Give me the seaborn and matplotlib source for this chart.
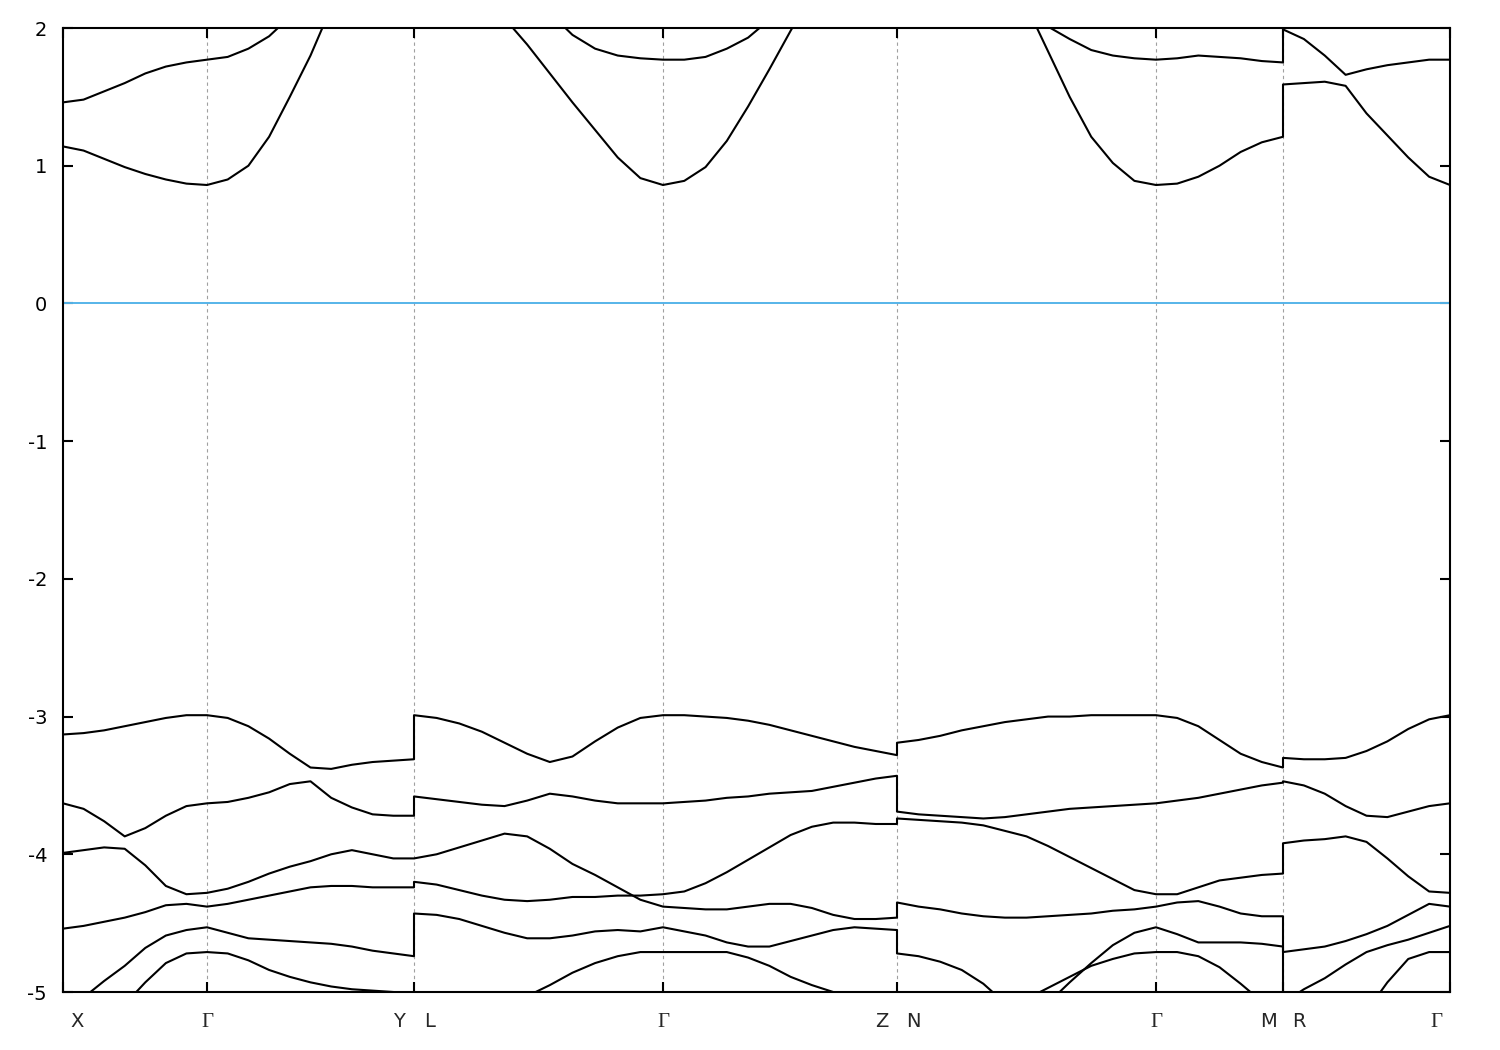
import numpy as np
import pandas as pd
import matplotlib
matplotlib.use('Agg')  # no display
import matplotlib.pyplot as plt
import matplotlib.transforms as mtransforms
import seaborn as sns

# k-path: high-symmetry points and their positions along the path
hs_labels = ['X', 'Γ', 'Y|L', 'Γ', 'Z|N', 'Γ', 'M|R', 'Γ']
hs_k = [0.000, 0.144, 0.351, 0.600, 0.834, 1.093, 1.220, 1.387]

# band energies (eV), one list per path segment, sampled evenly along each segment
band_v1 = [
    [-3.13, -3.12, -3.10, -3.07, -3.04, -3.01, -2.99, -2.99],
    [-2.99, -3.01, -3.07, -3.16, -3.27, -3.37, -3.38, -3.35, -3.33, -3.32, -3.31],
    [-2.99, -3.01, -3.05, -3.11, -3.19, -3.27, -3.33, -3.29, -3.18, -3.08, -3.01, -2.99],
    [-2.99, -2.99, -3.00, -3.01, -3.03, -3.06, -3.10, -3.14, -3.18, -3.22, -3.25, -3.28],
    [-3.19, -3.17, -3.14, -3.10, -3.07, -3.04, -3.02, -3.00, -3.00, -2.99, -2.99, -2.99, -2.99],
    [-2.99, -3.01, -3.07, -3.17, -3.27, -3.33, -3.37],
    [-3.30, -3.31, -3.31, -3.30, -3.25, -3.18, -3.09, -3.02, -2.99],
]
band_v2 = [
    [-3.63, -3.67, -3.76, -3.87, -3.81, -3.72, -3.65, -3.63],
    [-3.63, -3.62, -3.59, -3.55, -3.49, -3.47, -3.59, -3.66, -3.71, -3.72, -3.72],
    [-3.58, -3.60, -3.62, -3.64, -3.65, -3.61, -3.56, -3.58, -3.61, -3.63, -3.63, -3.63],
    [-3.63, -3.62, -3.61, -3.59, -3.58, -3.56, -3.55, -3.54, -3.51, -3.48, -3.45, -3.43],
    [-3.69, -3.71, -3.72, -3.73, -3.74, -3.73, -3.71, -3.69, -3.67, -3.66, -3.65, -3.64, -3.63],
    [-3.63, -3.61, -3.59, -3.56, -3.53, -3.50, -3.48],
    [-3.47, -3.50, -3.56, -3.65, -3.72, -3.73, -3.69, -3.65, -3.63],
]
band_v3 = [
    [-3.99, -3.97, -3.95, -3.96, -4.08, -4.23, -4.29, -4.28],
    [-4.28, -4.25, -4.20, -4.14, -4.09, -4.05, -4.00, -3.97, -4.00, -4.03, -4.03],
    [-4.03, -4.00, -3.95, -3.90, -3.85, -3.87, -3.96, -4.07, -4.15, -4.24, -4.33, -4.38],
    [-4.38, -4.39, -4.40, -4.40, -4.38, -4.36, -4.36, -4.39, -4.44, -4.47, -4.47, -4.46],
    [-4.35, -4.38, -4.40, -4.43, -4.45, -4.46, -4.46, -4.45, -4.44, -4.43, -4.41, -4.40, -4.38],
    [-4.38, -4.35, -4.34, -4.38, -4.43, -4.45, -4.45],
    [-4.71, -4.69, -4.67, -4.63, -4.58, -4.52, -4.44, -4.36, -4.38],
]
band_v4 = [
    [-4.54, -4.52, -4.49, -4.46, -4.42, -4.37, -4.36, -4.38],
    [-4.38, -4.36, -4.33, -4.30, -4.27, -4.24, -4.23, -4.23, -4.24, -4.24, -4.24],
    [-4.20, -4.22, -4.26, -4.30, -4.33, -4.34, -4.33, -4.31, -4.31, -4.30, -4.30, -4.29],
    [-4.29, -4.27, -4.21, -4.13, -4.04, -3.95, -3.86, -3.80, -3.77, -3.77, -3.78, -3.78],
    [-3.74, -3.75, -3.76, -3.77, -3.79, -3.83, -3.87, -3.94, -4.02, -4.10, -4.18, -4.26, -4.29],
    [-4.29, -4.29, -4.24, -4.19, -4.17, -4.15, -4.14],
    [-3.92, -3.90, -3.89, -3.87, -3.91, -4.03, -4.16, -4.27, -4.28],
]
band_v5 = [
    [-5.15, -5.04, -4.92, -4.81, -4.68, -4.59, -4.55, -4.53],
    [-4.53, -4.57, -4.61, -4.62, -4.63, -4.64, -4.65, -4.67, -4.70, -4.72, -4.74],
    [-4.43, -4.44, -4.47, -4.52, -4.57, -4.61, -4.61, -4.59, -4.56, -4.55, -4.56, -4.53],
    [-4.53, -4.56, -4.59, -4.64, -4.67, -4.67, -4.63, -4.59, -4.55, -4.53, -4.54, -4.55],
    [-4.72, -4.74, -4.78, -4.84, -4.94, -5.08, -5.05, -4.97, -4.89, -4.81, -4.76, -4.72, -4.71],
    [-4.71, -4.71, -4.74, -4.82, -4.94, -5.07, -5.20],
    [-5.60, -5.50, -5.40, -5.28, -5.14, -4.93, -4.76, -4.71, -4.71],
]
band_v6 = [
    [-5.55, -5.40, -5.25, -5.09, -4.93, -4.79, -4.72, -4.71],
    [-4.71, -4.72, -4.77, -4.84, -4.89, -4.93, -4.96, -4.98, -4.99, -5.00, -5.01],
    [-5.45, -5.38, -5.30, -5.20, -5.11, -5.03, -4.95, -4.86, -4.79, -4.74, -4.71, -4.71],
    [-4.71, -4.71, -4.71, -4.71, -4.75, -4.81, -4.89, -4.95, -5.00, -5.06, -5.12, -5.18],
    [-5.70, -5.65, -5.60, -5.50, -5.40, -5.30, -5.20, -5.08, -4.93, -4.79, -4.66, -4.57, -4.53],
    [-4.53, -4.58, -4.64, -4.64, -4.64, -4.65, -4.67],
    [-5.08, -4.98, -4.90, -4.80, -4.71, -4.66, -4.62, -4.57, -4.52],
]
band_c1 = [
    [1.14, 1.11, 1.05, 0.99, 0.94, 0.90, 0.87, 0.86],
    [0.86, 0.90, 1.00, 1.21, 1.50, 1.80, 2.15, 2.50, 2.80, 3.00, 3.10],
    [3.00, 2.80, 2.55, 2.30, 2.07, 1.88, 1.67, 1.46, 1.26, 1.06, 0.91, 0.86],
    [0.86, 0.89, 0.99, 1.18, 1.43, 1.70, 1.98, 2.25, 2.50, 2.70, 2.85, 3.00],
    [3.20, 3.10, 2.95, 2.80, 2.60, 2.40, 2.16, 1.83, 1.50, 1.21, 1.02, 0.89, 0.86],
    [0.86, 0.87, 0.92, 1.00, 1.10, 1.17, 1.21],
    [1.59, 1.60, 1.61, 1.58, 1.38, 1.22, 1.06, 0.92, 0.86],
]
band_c2 = [
    [1.46, 1.48, 1.54, 1.60, 1.67, 1.72, 1.75, 1.77],
    [1.77, 1.79, 1.85, 1.94, 2.08, 2.25, 2.40, 2.55, 2.65, 2.70, 2.75],
    [2.75, 2.72, 2.65, 2.55, 2.43, 2.28, 2.11, 1.95, 1.85, 1.80, 1.78, 1.77],
    [1.77, 1.77, 1.79, 1.85, 1.93, 2.06, 2.20, 2.35, 2.50, 2.60, 2.70, 2.75],
    [2.90, 2.80, 2.65, 2.50, 2.35, 2.22, 2.10, 2.01, 1.92, 1.84, 1.80, 1.78, 1.77],
    [1.77, 1.78, 1.80, 1.79, 1.78, 1.76, 1.75],
    [1.99, 1.92, 1.80, 1.66, 1.70, 1.73, 1.75, 1.77, 1.77],
]

bands = {
    'v1': band_v1, 'v2': band_v2, 'v3': band_v3, 'v4': band_v4,
    'v5': band_v5, 'v6': band_v6, 'c1': band_c1, 'c2': band_c2,
}

# long-form table, one row per sampled k point
rows = []
for name, segs in bands.items():
    for i, vals in enumerate(segs):
        ks = np.linspace(hs_k[i], hs_k[i + 1], len(vals))
        for k, e in zip(ks, vals):
            rows.append({'band': name, 'k': k, 'E': e})
df = pd.DataFrame(rows)

sns.set_style('ticks')
plt.rcParams['font.family'] = ['DejaVu Sans']
plt.rcParams['axes.unicode_minus'] = False

fig, ax = plt.subplots(figsize=(15, 10.5), dpi=100)
fig.subplots_adjust(left=63 / 1500, right=1450 / 1500,
                    bottom=1 - 992 / 1050, top=1 - 28 / 1050)

# dashed guides at the inner high-symmetry points
for k in hs_k[1:-1]:
    ax.axvline(k, color='#a0a0a0', lw=0.8, ls=(0, (3, 3)), zorder=0)

# Fermi level
ax.axhline(0, color='#56b4e9', lw=1.4, zorder=1)

sns.lineplot(data=df, x='k', y='E', units='band', estimator=None, sort=False,
             color='black', lw=1.5, legend=False, ax=ax, zorder=2)

ax.set_xlim(hs_k[0], hs_k[-1])
ax.set_ylim(-5, 2)
ax.set_yticks(range(-5, 3))
ax.set_xticks(hs_k)
ax.set_xlabel('')
ax.set_ylabel('')

for side in ['left', 'right', 'top', 'bottom']:
    ax.spines[side].set_visible(True)
    ax.spines[side].set_linewidth(1.5)
    ax.spines[side].set_color('black')

ax.tick_params(direction='in', length=7, width=1.5, top=True, right=True,
               labelbottom=False, colors='black')
ax.tick_params(axis='y', labelsize=14, pad=11.5)

# k-point labels under the axis; joined points get split left/right
trans = mtransforms.blended_transform_factory(ax.transData, ax.transAxes)
last = len(hs_labels) - 1
for i, (lab, k) in enumerate(zip(hs_labels, hs_k)):
    if '|' in lab:
        parts = list(zip(lab.split('|'), [-15, 16]))
    elif i == 0:
        parts = [(lab, 14)]
    elif i == last:
        parts = [(lab, -14)]
    else:
        parts = [(lab, 0)]
    for text, dx in parts:
        fam = ['Liberation Serif', 'DejaVu Serif'] if text == 'Γ' else ['DejaVu Sans']
        size = 15 if text == 'Γ' else 14
        ax.annotate(text, xy=(k, 0), xycoords=trans, xytext=(dx, -35),
                    textcoords='offset pixels', ha='center', va='baseline',
                    fontsize=size, family=fam, annotation_clip=False)

fig.savefig('out.png', dpi=100)
plt.close(fig)
